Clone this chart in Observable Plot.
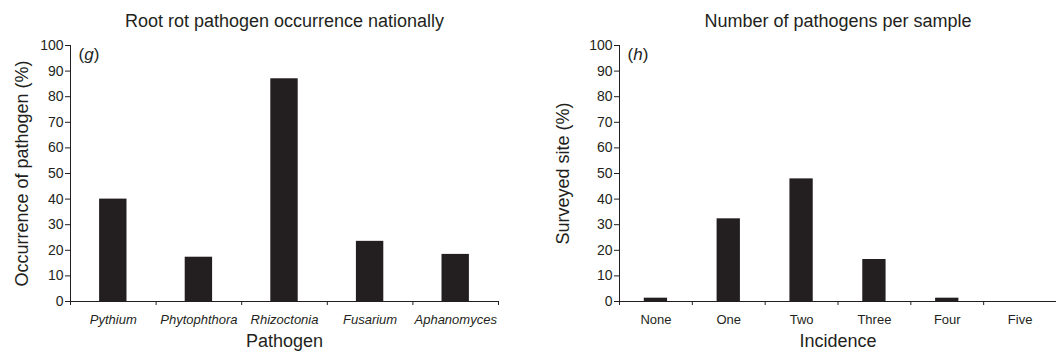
<!DOCTYPE html>
<html>
<head>
<meta charset="utf-8">
<script src="https://cdn.jsdelivr.net/npm/d3@7"></script>
<script src="https://cdn.jsdelivr.net/npm/@observablehq/plot@0.6"></script>
<style>
  body { margin: 0; background: white; }
  #wrap { display: flex; width: 1056px; height: 354px; }
</style>
</head>
<body>
<div id="wrap"></div>
<script>
// ---- data ----
const pathogens = ["Pythium", "Phytophthora", "Rhizoctonia", "Fusarium", "Aphanomyces"];
const occurrence = [40, 17.3, 87, 23.5, 18.4];
const incidence = ["None", "One", "Two", "Three", "Four", "Five"];
const surveyed = [1.3, 32.3, 47.9, 16.4, 1.3, 0];
const yTicks = [0, 10, 20, 30, 40, 50, 60, 70, 80, 90, 100];

const INK = "#231f20";

function panel({names, values, title, xLabel, yLabel, tag, italic, marginLeft, marginRight, yLabelDx}) {
  const data = names.map((name, i) => ({name, value: values[i], i}));
  const n = names.length;
  const hw = 0.16;
  const svg = Plot.plot({
    width: 528,
    height: 354,
    marginLeft,
    marginRight,
    marginTop: 45,
    marginBottom: 53,
    style: {fontFamily: "'Liberation Sans', Arial, sans-serif", color: INK, background: "white", overflow: "visible"},
    x: {domain: [0, n], axis: null},
    y: {domain: [0, 100], axis: null},
    marks: [
      Plot.rectY(data, {x1: d => d.i + 0.5 - hw, x2: d => d.i + 0.5 + hw, y1: 0, y2: "value", fill: INK}),
      Plot.axisY({ticks: yTicks, tickSize: 5, tickPadding: 2, fontSize: 14, label: null}),
      Plot.axisX({ticks: d3.range(n + 1), tickSize: 4, tickFormat: () => "", label: null}),
      Plot.ruleX([0]),
      Plot.ruleY([0]),
      Plot.text(data, {x: d => d.i + 0.5, text: "name", frameAnchor: "bottom", lineAnchor: "middle", dy: 18, fontSize: 13, fontStyle: italic ? "italic" : "normal"}),
      Plot.text([xLabel], {frameAnchor: "bottom", lineAnchor: "middle", dy: 40, fontSize: 18}),
      Plot.text([yLabel], {frameAnchor: "left", lineAnchor: "middle", textAnchor: "middle", dx: yLabelDx, rotate: -90, fontSize: 18}),
      Plot.text([title], {frameAnchor: "top", lineAnchor: "middle", dy: -24, fontSize: 18}),
      Plot.text([tag], {frameAnchor: "top-left", lineAnchor: "middle", dx: 8, dy: 9, fontSize: 17})
    ]
  });
  // italicize the letter in the panel tag
  svg.querySelectorAll("text").forEach(t => {
    if (t.textContent === tag) {
      const letter = tag.slice(1, -1);
      t.innerHTML = "(<tspan font-style='italic'>" + letter + "</tspan>)";
    }
  });
  return svg;
}

const wrap = document.getElementById("wrap");
wrap.appendChild(panel({
  names: pathogens, values: occurrence,
  title: "Root rot pathogen occurrence nationally",
  xLabel: "Pathogen", yLabel: "Occurrence of pathogen (%)",
  tag: "(g)", italic: true, marginLeft: 70, marginRight: 30, yLabelDx: -48
}));
wrap.appendChild(panel({
  names: incidence, values: surveyed,
  title: "Number of pathogens per sample",
  xLabel: "Incidence", yLabel: "Surveyed site (%)",
  tag: "(h)", italic: false, marginLeft: 91, marginRight: 0, yLabelDx: -56
}));
</script>
</body>
</html>
